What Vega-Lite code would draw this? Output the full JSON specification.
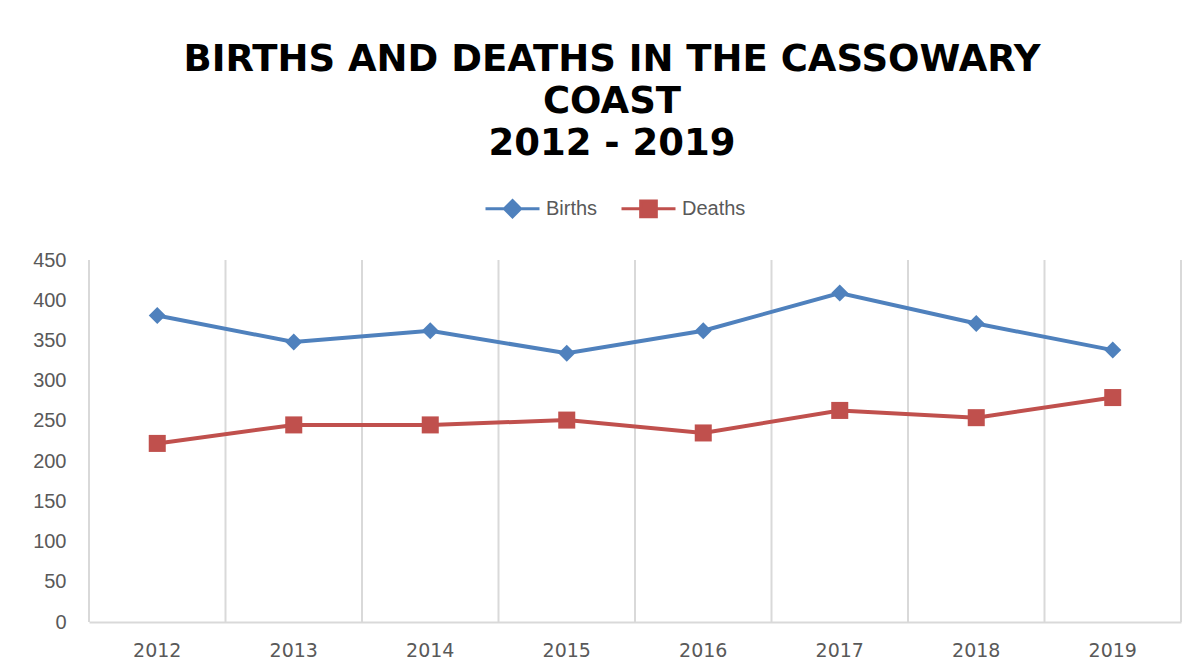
{
  "$schema": "https://vega.github.io/schema/vega-lite/v6.json",
  "width": 1092,
  "height": 362,
  "autosize": {"type": "none"},
  "padding": {"left": 89, "top": 260, "right": 11, "bottom": 45},
  "background": "white",
  "title": {
    "text": ["BIRTHS AND DEATHS IN THE CASSOWARY", "COAST", "2012 - 2019"],
    "font": "DejaVu Sans",
    "fontSize": 37,
    "fontWeight": "bold",
    "color": "#000000",
    "lineHeight": 42,
    "anchor": "middle",
    "dx": -23,
    "offset": 17
  },
  "config": {
    "view": {"stroke": null},
    "axis": {
      "labelFont": "Liberation Sans",
      "labelColor": "#595959",
      "labelFontSize": 20,
      "domain": false,
      "ticks": false,
      "grid": false,
      "title": null
    }
  },
  "datasets": {
    "years": [
      {"year": "2012"}, {"year": "2013"}, {"year": "2014"}, {"year": "2015"},
      {"year": "2016"}, {"year": "2017"}, {"year": "2018"}, {"year": "2019"}
    ]
  },
  "data": {
    "values": [
      {"year": "2012", "series": "Births", "value": 381},
      {"year": "2013", "series": "Births", "value": 348},
      {"year": "2014", "series": "Births", "value": 362},
      {"year": "2015", "series": "Births", "value": 334},
      {"year": "2016", "series": "Births", "value": 362},
      {"year": "2017", "series": "Births", "value": 409},
      {"year": "2018", "series": "Births", "value": 371},
      {"year": "2019", "series": "Births", "value": 338},
      {"year": "2012", "series": "Deaths", "value": 222},
      {"year": "2013", "series": "Deaths", "value": 245},
      {"year": "2014", "series": "Deaths", "value": 245},
      {"year": "2015", "series": "Deaths", "value": 251},
      {"year": "2016", "series": "Deaths", "value": 235},
      {"year": "2017", "series": "Deaths", "value": 263},
      {"year": "2018", "series": "Deaths", "value": 254},
      {"year": "2019", "series": "Deaths", "value": 279}
    ]
  },
  "layer": [
    {
      "data": {"name": "years"},
      "mark": {"type": "rule", "color": "#d9d9d9", "strokeWidth": 2},
      "encoding": {
        "x": {"field": "year", "type": "ordinal", "bandPosition": 0, "scale": {"type": "band", "paddingInner": 0, "paddingOuter": 0}}
      }
    },
    {
      "data": {"values": [{"year": "2019"}]},
      "mark": {"type": "rule", "color": "#d9d9d9", "strokeWidth": 2},
      "encoding": {
        "x": {"field": "year", "type": "ordinal", "bandPosition": 1, "scale": {"type": "band", "paddingInner": 0, "paddingOuter": 0}}
      }
    },
    {
      "mark": {"type": "line", "strokeWidth": 4},
      "encoding": {
        "x": {
          "field": "year",
          "type": "ordinal",
          "scale": {"type": "band", "paddingInner": 0, "paddingOuter": 0},
          "axis": {
            "grid": false,
            "domain": true,
            "domainColor": "#d9d9d9",
            "domainWidth": 2,
            "labelAngle": 0,
            "labelAlign": "center",
            "labelBaseline": "top",
            "bandPosition": 0.5,
            "labelPadding": 19,
            "labelFont": "DejaVu Sans",
            "labelFontSize": 19
          }
        },
        "y": {
          "field": "value",
          "type": "quantitative",
          "scale": {"domain": [0, 450], "nice": false},
          "axis": {"values": [0, 50, 100, 150, 200, 250, 300, 350, 400, 450], "labelPadding": 23}
        },
        "color": {
          "field": "series",
          "type": "nominal",
          "scale": {"domain": ["Births", "Deaths"], "range": ["#4f81bd", "#c0504d"]},
          "legend": {
            "orient": "none",
            "direction": "horizontal",
            "legendX": 395,
            "legendY": -80,
            "title": null,
            "symbolSize": 2916,
            "symbolStrokeWidth": 3,
            "labelFont": "Liberation Sans",
            "labelFontSize": 20,
            "labelColor": "#595959",
            "labelOffset": 5,
            "columnPadding": 17,
            "encode": {
              "symbols": {
                "update": {
                  "shape": {"signal": "datum.value === 'Births' ? 'M-1,0H1M0,-0.3L0.3,0L0,0.3L-0.3,0Z' : 'M-1,0H1M-0.29,-0.29H0.29V0.29H-0.29Z'"},
                  "fill": {"signal": "datum.value === 'Births' ? '#4f81bd' : '#c0504d'"},
                  "stroke": {"signal": "datum.value === 'Births' ? '#4f81bd' : '#c0504d'"},
                  "strokeWidth": {"value": 3},
                  "opacity": {"value": 1}
                }
              }
            }
          }
        }
      }
    },
    {
      "transform": [{"filter": "datum.series === 'Births'"}],
      "mark": {"type": "point", "filled": true, "opacity": 1, "size": 290, "shape": "diamond"},
      "encoding": {
        "x": {"field": "year", "type": "ordinal", "scale": {"type": "band", "paddingInner": 0, "paddingOuter": 0}},
        "y": {"field": "value", "type": "quantitative"},
        "color": {"field": "series", "type": "nominal"}
      }
    },
    {
      "transform": [{"filter": "datum.series === 'Deaths'"}],
      "mark": {"type": "point", "filled": true, "opacity": 1, "size": 290, "shape": "square"},
      "encoding": {
        "x": {"field": "year", "type": "ordinal", "scale": {"type": "band", "paddingInner": 0, "paddingOuter": 0}},
        "y": {"field": "value", "type": "quantitative"},
        "color": {"field": "series", "type": "nominal"}
      }
    }
  ]
}
